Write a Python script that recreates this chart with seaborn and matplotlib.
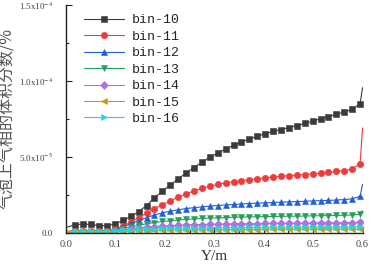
import numpy as np
import pandas as pd
import matplotlib
matplotlib.use('Agg')
import matplotlib.pyplot as plt
import seaborn as sns
from matplotlib.ticker import FixedLocator, MultipleLocator

# x positions (m): line start, marker points, line end
y_pos = [0.0,
         0.019, 0.035, 0.051, 0.067, 0.083, 0.099, 0.115, 0.131, 0.147, 0.163,
         0.179, 0.195, 0.211, 0.227, 0.243, 0.259, 0.275, 0.291, 0.307, 0.323,
         0.339, 0.355, 0.371, 0.387, 0.403, 0.419, 0.435, 0.451, 0.467, 0.483,
         0.499, 0.515, 0.531, 0.547, 0.563, 0.579, 0.595,
         0.6]

# volume fraction, units of 1e-5
bin10 = [0.35,
         0.55, 0.58, 0.56, 0.48, 0.47, 0.58, 0.82, 1.08, 1.40, 1.80,
         2.30, 2.75, 3.15, 3.55, 3.95, 4.30, 4.65, 4.98, 5.25, 5.52,
         5.76, 5.98, 6.17, 6.36, 6.52, 6.67, 6.80, 6.93, 7.06, 7.20,
         7.35, 7.50, 7.65, 7.80, 7.95, 8.12, 8.50,
         9.55]
bin11 = [0.10,
         0.15, 0.15, 0.15, 0.14, 0.15, 0.25, 0.45, 0.70, 1.00, 1.30,
         1.60, 1.85, 2.10, 2.35, 2.57, 2.76, 2.93, 3.07, 3.19, 3.29,
         3.37, 3.44, 3.50, 3.56, 3.62, 3.67, 3.72, 3.76, 3.80, 3.84,
         3.88, 3.93, 3.98, 4.04, 4.10, 4.20, 4.55,
         6.90]
bin12 = [0.08,
         0.10, 0.10, 0.10, 0.10, 0.10, 0.20, 0.40, 0.60, 0.80, 1.00,
         1.18, 1.32, 1.43, 1.52, 1.60, 1.66, 1.71, 1.76, 1.80, 1.84,
         1.87, 1.90, 1.93, 1.96, 1.98, 2.00, 2.02, 2.04, 2.06, 2.08,
         2.10, 2.12, 2.14, 2.16, 2.19, 2.24, 2.40,
         3.20]
bin13 = [0.06,
         0.08, 0.08, 0.08, 0.08, 0.08, 0.15, 0.28, 0.40, 0.50, 0.60,
         0.68, 0.75, 0.80, 0.85, 0.89, 0.92, 0.95, 0.97, 0.99, 1.01,
         1.03, 1.04, 1.05, 1.06, 1.07, 1.08, 1.09, 1.10, 1.10, 1.11,
         1.12, 1.13, 1.14, 1.15, 1.16, 1.18, 1.22,
         1.45]
bin14 = [0.05,
         0.06, 0.06, 0.06, 0.06, 0.06, 0.12, 0.20, 0.27, 0.33, 0.38,
         0.42, 0.46, 0.48, 0.50, 0.52, 0.54, 0.55, 0.56, 0.57, 0.58,
         0.59, 0.60, 0.60, 0.61, 0.62, 0.62, 0.63, 0.63, 0.64, 0.64,
         0.65, 0.65, 0.66, 0.66, 0.67, 0.68, 0.70,
         0.82]
bin15 = [0.04,
         0.05, 0.05, 0.05, 0.05, 0.05, 0.07, 0.10, 0.12, 0.14, 0.15,
         0.16, 0.17, 0.18, 0.19, 0.19, 0.20, 0.20, 0.21, 0.21, 0.21,
         0.22, 0.22, 0.22, 0.22, 0.23, 0.23, 0.23, 0.23, 0.23, 0.24,
         0.24, 0.24, 0.24, 0.24, 0.25, 0.25, 0.26,
         0.30]
bin16 = [0.08,
         0.10, 0.10, 0.10, 0.10, 0.10, 0.13, 0.17, 0.20, 0.23, 0.25,
         0.27, 0.29, 0.30, 0.31, 0.32, 0.33, 0.33, 0.34, 0.34, 0.35,
         0.35, 0.35, 0.36, 0.36, 0.36, 0.37, 0.37, 0.37, 0.37, 0.38,
         0.38, 0.38, 0.38, 0.39, 0.39, 0.40, 0.41,
         0.48]

labels = ['bin-10', 'bin-11', 'bin-12', 'bin-13', 'bin-14', 'bin-15', 'bin-16']
series = [bin10, bin11, bin12, bin13, bin14, bin15, bin16]
colors = ['#3a3a3a', '#f23a3a', '#1f5fdc', '#22a05a', '#b070e0', '#c89a10', '#20d8dc']
markers = ['s', 'o', '^', 'v', 'D', '<', '>']
msizes = [4.2, 4.6, 4.6, 4.6, 3.6, 4.6, 4.6]

xticks = [0.0, 0.1, 0.2, 0.3, 0.4, 0.5, 0.6]
xtick_labels = ['0.0', '0.1', '0.2', '0.3', '0.4', '0.5', '0.6']
yticks = [0.0, 5e-5, 1e-4, 1.5e-4]
ytick_labels = ['0.0', r'5.0x10$^{-5}$', r'1.0x10$^{-4}$', r'1.5x10$^{-4}$']

sns.set_style('ticks')
plt.rcParams['font.family'] = ['Liberation Serif', 'Noto Sans CJK SC']
plt.rcParams['mathtext.fontset'] = 'stix'

fig = plt.figure(figsize=(3.73, 2.68), dpi=100)
ax = fig.add_axes([0.177, 0.131, 0.795, 0.851])

for lab, vals, c, m, ms in zip(labels, series, colors, markers, msizes):
    df = pd.DataFrame({'Y': y_pos, 'v': np.array(vals) * 1e-5})
    sns.lineplot(data=df, x='Y', y='v', ax=ax, color=c, marker=m, markersize=ms,
                 markeredgewidth=0.4, markeredgecolor=c, linewidth=0.8,
                 markevery=list(range(1, len(y_pos) - 1)), label=lab)

ax.set_xlim(0, 0.6)
ax.set_ylim(0, 1.5e-4)
ax.xaxis.set_major_locator(FixedLocator(xticks))
ax.xaxis.set_minor_locator(MultipleLocator(0.05))
ax.yaxis.set_major_locator(FixedLocator(yticks))
ax.yaxis.set_minor_locator(MultipleLocator(2.5e-5))
ax.set_xticklabels(xtick_labels)
ax.set_yticklabels(ytick_labels)
ax.tick_params(which='both', direction='in', width=0.8,
               colors='#222222', labelcolor='#444444')
ax.tick_params(axis='y', pad=9.5, labelsize=6.5)
ax.tick_params(axis='x', pad=5, labelsize=7.5)
ax.tick_params(which='major', length=4)
ax.tick_params(which='minor', length=2.5)
for s in ['top', 'right']:
    ax.spines[s].set_visible(False)
for s in ['left', 'bottom']:
    ax.spines[s].set_linewidth(1.0)
    ax.spines[s].set_color('#222222')

ax.set_xlabel('Y/m', fontsize=11, labelpad=1, color='#333333')
ax.set_ylabel('气泡上气相的体积分数/%', fontsize=11.5,
              family=['Noto Sans CJK SC', 'DejaVu Sans'], color='#555555')
ax.yaxis.set_label_coords(-0.168, 0.5)

leg = ax.legend(loc='upper left', bbox_to_anchor=(0.03, 1.0), frameon=False,
                handlelength=3.0, labelspacing=0.32,
                handletextpad=0.6, borderaxespad=0.3,
                prop={'family': 'Liberation Mono', 'size': 9.5})

fig.savefig('out.png', dpi=100)
